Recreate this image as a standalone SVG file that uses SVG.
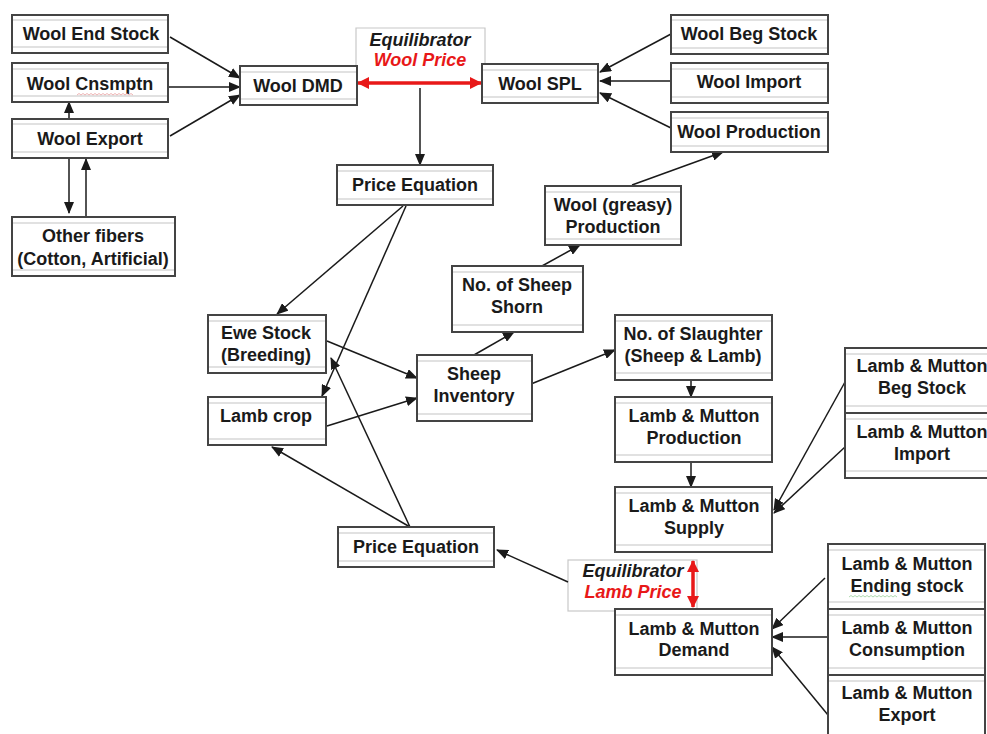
<svg xmlns="http://www.w3.org/2000/svg" width="987" height="734" viewBox="0 0 987 734">
<style>
.box{fill:#fff;stroke:#444;stroke-width:2}
.in{stroke:#c4c4c4;stroke-width:1.2}
.t{font-family:"Liberation Sans",Arial,sans-serif;font-size:18px;font-weight:bold;fill:#1a1a1a;text-anchor:middle}
.eq{font-family:"Liberation Sans",Arial,sans-serif;font-size:18px;font-weight:bold;font-style:italic;text-anchor:middle}
.c{stroke:#1a1a1a;stroke-width:1.5;fill:none;marker-end:url(#ah)}
.red{stroke:#e81818;stroke-width:3.5;fill:none;marker-end:url(#rh);marker-start:url(#rs)}
.eqb{fill:#fff;stroke:#c8c8c8;stroke-width:1.2}
</style>
<defs>
<marker id="ah" markerUnits="userSpaceOnUse" markerWidth="12" markerHeight="10" refX="11" refY="5" orient="auto"><path d="M0,0 L12,5 L0,10 z" fill="#1a1a1a"/></marker>
<marker id="rh" markerUnits="userSpaceOnUse" markerWidth="12" markerHeight="12" refX="11" refY="6" orient="auto"><path d="M0,0 L12,6 L0,12 z" fill="#e81818"/></marker>
<marker id="rs" markerUnits="userSpaceOnUse" markerWidth="12" markerHeight="12" refX="1" refY="6" orient="auto"><path d="M12,0 L0,6 L12,12 z" fill="#e81818"/></marker>
</defs>
<rect width="987" height="734" fill="#fff"/>

<g id="equilibrator-wool">
<path class="eqb" d="M356,66 V28 H485 V66"/>
<text class="eq" x="420" y="46" fill="#1a1a1a">Equilibrator</text>
<text class="eq" x="420" y="66" fill="#e81818">Wool Price</text>
</g>
<g id="equilibrator-lamb">
<rect class="eqb" x="568" y="560" width="129" height="51"/>
<text class="eq" x="633" y="577" fill="#1a1a1a">Equilibrator</text>
<text class="eq" x="633" y="598" fill="#e81818">Lamb Price</text>
</g>

<g id="connectors">
<line class="c" x1="170" y1="37" x2="240" y2="78"/>
<line class="c" x1="168" y1="87" x2="240" y2="87"/>
<line class="c" x1="170" y1="136" x2="240" y2="95"/>
<line class="c" x1="69" y1="119" x2="69" y2="102"/>
<line class="c" x1="69" y1="158" x2="69" y2="213"/>
<line class="c" x1="86" y1="217" x2="86" y2="159"/>
<line class="red" x1="358" y1="83" x2="481" y2="83"/>
<line class="c" x1="420" y1="88" x2="420" y2="165"/>
<line class="c" x1="671" y1="34" x2="600" y2="72"/>
<line class="c" x1="671" y1="81" x2="600" y2="81"/>
<line class="c" x1="671" y1="128" x2="600" y2="93"/>
<line class="c" x1="632" y1="185" x2="723" y2="152"/>
<line class="c" x1="542" y1="266" x2="580" y2="245"/>
<line class="c" x1="474" y1="355" x2="514" y2="332"/>
<line class="c" x1="531" y1="384" x2="615" y2="350"/>
<line class="c" x1="403" y1="206" x2="277" y2="314"/>
<line class="c" x1="406" y1="206" x2="322" y2="396"/>
<line class="c" x1="327" y1="341" x2="417" y2="378"/>
<line class="c" x1="327" y1="426" x2="417" y2="398"/>
<line class="c" x1="410" y1="527" x2="331" y2="358"/>
<line class="c" x1="410" y1="527" x2="272" y2="447"/>
<line class="c" x1="568" y1="582" x2="497" y2="550"/>
<line class="c" x1="691" y1="380" x2="691" y2="397"/>
<line class="c" x1="691" y1="462" x2="691" y2="487"/>
<line class="c" x1="845" y1="382" x2="774" y2="510"/>
<line class="c" x1="845" y1="447" x2="774" y2="513"/>
<line class="red" x1="693" y1="561" x2="693" y2="607"/>
<line class="c" x1="825" y1="578" x2="772" y2="629"/>
<line class="c" x1="827" y1="637" x2="772" y2="637"/>
<line class="c" x1="828" y1="715" x2="772" y2="647"/>
</g>

<g id="wool-end-stock"><rect class="box" x="12" y="15" width="156" height="38"/><line class="in" x1="13" y1="20" x2="167" y2="20"/><line class="in" x1="13" y1="47" x2="167" y2="47"/><text class="t" x="91" y="40">Wool End Stock</text></g>
<g id="wool-cnsmptn"><rect class="box" x="12" y="63" width="156" height="39"/><line class="in" x1="13" y1="69" x2="167" y2="69"/><line class="in" x1="13" y1="96" x2="167" y2="96"/><text class="t" x="90" y="90">Wool Cnsmptn</text><path d="M77,95 l2,-1.5 l2,1.5 l2,-1.5 l2,1.5 l2,-1.5 l2,1.5 l2,-1.5 l2,1.5 l2,-1.5 l2,1.5 l2,-1.5 l2,1.5 l2,-1.5 l2,1.5 l2,-1.5 l2,1.5 l2,-1.5 l2,1.5 l2,-1.5 l2,1.5 l2,-1.5 l2,1.5 l2,-1.5 l2,1.5 l2,-1.5 l2,1.5 l2,-1.5 l2,1.5" fill="none" stroke="#e8a0a0" stroke-width="0.8"/></g>
<g id="wool-export"><rect class="box" x="12" y="119" width="156" height="39"/><line class="in" x1="13" y1="124" x2="167" y2="124"/><line class="in" x1="13" y1="152" x2="167" y2="152"/><text class="t" x="90" y="145">Wool Export</text></g>
<g id="other-fibers"><rect class="box" x="12" y="217" width="163" height="59"/><line class="in" x1="13" y1="223" x2="174" y2="223"/><line class="in" x1="13" y1="270" x2="174" y2="270"/><text class="t" x="93" y="242">Other fibers</text><text class="t" x="93" y="265">(Cotton, Artificial)</text></g>
<g id="wool-dmd"><rect class="box" x="240" y="66" width="117" height="39"/><line class="in" x1="241" y1="72" x2="356" y2="72"/><line class="in" x1="241" y1="99" x2="356" y2="99"/><text class="t" x="298" y="92">Wool DMD</text></g>
<g id="wool-spl"><rect class="box" x="482" y="64" width="116" height="39"/><line class="in" x1="483" y1="70" x2="597" y2="70"/><line class="in" x1="483" y1="97" x2="597" y2="97"/><text class="t" x="540" y="90">Wool SPL</text></g>
<g id="wool-beg-stock"><rect class="box" x="671" y="15" width="157" height="39"/><line class="in" x1="672" y1="20" x2="827" y2="20"/><line class="in" x1="672" y1="48" x2="827" y2="48"/><text class="t" x="749" y="40">Wool Beg Stock</text></g>
<g id="wool-import"><rect class="box" x="671" y="63" width="157" height="40"/><line class="in" x1="672" y1="69" x2="827" y2="69"/><line class="in" x1="672" y1="97" x2="827" y2="97"/><text class="t" x="749" y="88">Wool Import</text></g>
<g id="wool-production"><rect class="box" x="671" y="112" width="157" height="40"/><line class="in" x1="672" y1="118" x2="827" y2="118"/><line class="in" x1="672" y1="146" x2="827" y2="146"/><text class="t" x="749" y="138">Wool Production</text></g>
<g id="price-equation-top"><rect class="box" x="337" y="165" width="156" height="40"/><line class="in" x1="338" y1="171" x2="492" y2="171"/><line class="in" x1="338" y1="199" x2="492" y2="199"/><text class="t" x="415" y="191">Price Equation</text></g>
<g id="wool-greasy-production"><rect class="box" x="545" y="186" width="136" height="59"/><line class="in" x1="546" y1="192" x2="680" y2="192"/><line class="in" x1="546" y1="239" x2="680" y2="239"/><text class="t" x="613" y="211">Wool (greasy)</text><text class="t" x="613" y="233">Production</text></g>
<g id="sheep-shorn"><rect class="box" x="452" y="266" width="131" height="66"/><line class="in" x1="453" y1="272" x2="582" y2="272"/><line class="in" x1="453" y1="325" x2="582" y2="325"/><text class="t" x="517" y="291">No. of Sheep</text><text class="t" x="517" y="313">Shorn</text></g>
<g id="ewe-stock"><rect class="box" x="208" y="315" width="118" height="58"/><line class="in" x1="209" y1="321" x2="325" y2="321"/><line class="in" x1="209" y1="367" x2="325" y2="367"/><text class="t" x="266" y="339">Ewe Stock</text><text class="t" x="266" y="361">(Breeding)</text></g>
<g id="lamb-crop"><rect class="box" x="208" y="397" width="118" height="48"/><line class="in" x1="209" y1="403" x2="325" y2="403"/><line class="in" x1="209" y1="439" x2="325" y2="439"/><text class="t" x="266" y="422">Lamb crop</text></g>
<g id="sheep-inventory"><rect class="box" x="417" y="355" width="115" height="66"/><line class="in" x1="418" y1="361" x2="531" y2="361"/><line class="in" x1="418" y1="414" x2="531" y2="414"/><text class="t" x="474" y="380">Sheep</text><text class="t" x="474" y="402">Inventory</text></g>
<g id="no-of-slaughter"><rect class="box" x="615" y="315" width="157" height="65"/><line class="in" x1="616" y1="321" x2="771" y2="321"/><line class="in" x1="616" y1="373" x2="771" y2="373"/><text class="t" x="693" y="340">No. of Slaughter</text><text class="t" x="693" y="362">(Sheep &amp; Lamb)</text></g>
<g id="lm-production"><rect class="box" x="615" y="397" width="157" height="65"/><line class="in" x1="616" y1="403" x2="771" y2="403"/><line class="in" x1="616" y1="455" x2="771" y2="455"/><text class="t" x="694" y="422">Lamb &amp; Mutton</text><text class="t" x="694" y="444">Production</text></g>
<g id="lm-supply"><rect class="box" x="615" y="487" width="157" height="65"/><line class="in" x1="616" y1="493" x2="771" y2="493"/><line class="in" x1="616" y1="545" x2="771" y2="545"/><text class="t" x="694" y="512">Lamb &amp; Mutton</text><text class="t" x="694" y="534">Supply</text></g>
<g id="lm-beg-stock"><rect class="box" x="845" y="348" width="160" height="65"/><line class="in" x1="846" y1="354" x2="987" y2="354"/><line class="in" x1="846" y1="406" x2="987" y2="406"/><text class="t" x="922" y="372">Lamb &amp; Mutton</text><text class="t" x="922" y="394">Beg Stock</text></g>
<g id="lm-import"><rect class="box" x="845" y="413" width="160" height="65"/><line class="in" x1="846" y1="419" x2="987" y2="419"/><line class="in" x1="846" y1="471" x2="987" y2="471"/><text class="t" x="922" y="438">Lamb &amp; Mutton</text><text class="t" x="922" y="460">Import</text></g>
<g id="price-equation-bottom"><rect class="box" x="338" y="527" width="156" height="40"/><line class="in" x1="339" y1="533" x2="493" y2="533"/><line class="in" x1="339" y1="561" x2="493" y2="561"/><text class="t" x="416" y="553">Price Equation</text></g>
<g id="lm-demand"><rect class="box" x="615" y="609" width="157" height="66"/><line class="in" x1="616" y1="615" x2="771" y2="615"/><line class="in" x1="616" y1="668" x2="771" y2="668"/><text class="t" x="694" y="635">Lamb &amp; Mutton</text><text class="t" x="694" y="656">Demand</text></g>
<g id="lm-ending-stock"><rect class="box" x="828" y="544" width="157" height="65"/><line class="in" x1="829" y1="550" x2="984" y2="550"/><line class="in" x1="829" y1="602" x2="984" y2="602"/><text class="t" x="907" y="570">Lamb &amp; Mutton</text><text class="t" x="907" y="592">Ending stock</text><path d="M849,597 l2,-1.5 l2,1.5 l2,-1.5 l2,1.5 l2,-1.5 l2,1.5 l2,-1.5 l2,1.5 l2,-1.5 l2,1.5 l2,-1.5 l2,1.5 l2,-1.5 l2,1.5 l2,-1.5 l2,1.5 l2,-1.5 l2,1.5 l2,-1.5 l2,1.5 l2,-1.5 l2,1.5 l2,-1.5 l2,1.5" fill="none" stroke="#9cd09c" stroke-width="0.8"/></g>
<g id="lm-consumption"><rect class="box" x="828" y="609" width="157" height="66"/><line class="in" x1="829" y1="615" x2="984" y2="615"/><line class="in" x1="829" y1="668" x2="984" y2="668"/><text class="t" x="907" y="634">Lamb &amp; Mutton</text><text class="t" x="907" y="656">Consumption</text></g>
<g id="lm-export"><rect class="box" x="828" y="675" width="157" height="66"/><line class="in" x1="829" y1="681" x2="984" y2="681"/><text class="t" x="907" y="699">Lamb &amp; Mutton</text><text class="t" x="907" y="721">Export</text></g>
</svg>
